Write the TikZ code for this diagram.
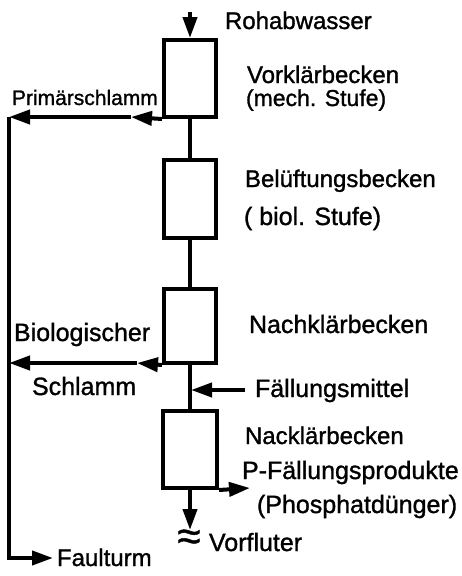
\documentclass[tikz,border=0pt]{standalone}
\usepackage{fontspec}
\newfontfamily\dinfont{Liberation Sans}[FakeBold=1.2]
\usetikzlibrary{arrows.meta}
\begin{document}
\begin{tikzpicture}[x=1pt,y=-1pt,
  line width=4pt, line join=miter,
  tank/.style={draw, fill=white, minimum width=52pt, inner sep=0pt, line width=4pt},
  arr/.style={-{Triangle[length=21pt,width=14pt]}},
  lbl/.style={anchor=base west, inner sep=0pt, font=\dinfont\fontsize{24}{28}\selectfont},
  lbls/.style={anchor=base west, inner sep=0pt, font=\dinfont\fontsize{23}{26}\selectfont}]
\useasboundingbox (0,0) rectangle (461,576);
% tanks
\node[tank, minimum height=77pt] (b1) at (190,78.5) {};
\node[tank, minimum height=78pt] (b2) at (190,199) {};
\node[tank, minimum height=74pt] (b3) at (190,326) {};
\node[tank, minimum height=77pt, minimum width=54pt] (b4) at (190,449.5) {};
% helper coordinates
\coordinate (in) at (190,12);
\coordinate (p1) at (131,117);
\coordinate (p2) at (9,117);
\coordinate (q1) at (137,363);
\coordinate (q2) at (9,363);
\coordinate (lb) at (9,558);
\coordinate (fa) at (53,558);
\coordinate (fm) at (245,390);
\coordinate (fmt) at (191,390);
\coordinate (pout) at (250,488);
\coordinate (vout) at (190,530);
% flow lines
\draw[arr] (in) -- (b1.north);
\draw (b1.south) -- (b2.north);
\draw (b2.south) -- (b3.north);
\draw (b3.south) -- (b4.north);
\draw[arr] (b1.south west) -- (p1);
\draw[arr] (p1) -- (p2);
\draw[arr] (b3.south west) -- (q1);
\draw[arr] (q1) -- (q2);
\draw[arr] (p2) -- (lb) -- (fa);
\draw[arr] (fm) -- (fmt);
\draw[arr] (b4.south east) -- (pout);
\draw[arr] (b4.south) -- (vout);
% labels
\node[lbl] (t1) at (223,29) {Rohabwasser};
\node[lbl] (t2) at (245,83) {Vorklärbecken};
\node[lbls] (t3) at (244,106) {(mech. Stufe)};
\node[lbl, font=\dinfont\fontsize{21}{26}\selectfont] (t4) at (10,105) {Primärschlamm};
\node[lbl] (t5) at (243,187) {Belüftungsbecken};
\node[lbl, font=\dinfont\fontsize{25}{28}\selectfont] (t6) at (242,225) {( biol. Stufe)};
\node[lbl, font=\dinfont\fontsize{25}{28}\selectfont] (t7) at (247,333) {Nachklärbecken};
\node[lbl, font=\dinfont\fontsize{25}{28}\selectfont] (t8) at (12,341) {Biologischer};
\node[lbl, font=\dinfont\fontsize{25}{28}\selectfont] (t9) at (30,395) {Schlamm};
\node[lbl, font=\dinfont\fontsize{25}{28}\selectfont] (t10) at (253,397) {Fällungsmittel};
\node[lbl] (t11) at (243,444) {Nacklärbecken};
\node[lbl, font=\dinfont\fontsize{25}{28}\selectfont] (t12) at (240,479) {P-Fällungsprodukte};
\node[lbl, font=\dinfont\fontsize{25}{28}\selectfont] (t13) at (255,513) {(Phosphatdünger)};
\node[inner sep=0pt, font=\dinfont\fontsize{42}{44}\selectfont] (t14) at (189,540) {≈};
\node[lbl, font=\dinfont\fontsize{25}{28}\selectfont] (t15) at (207,551) {Vorfluter};
\node[lbl] (t16) at (55,566) {Faulturm};
\end{tikzpicture}
\end{document}
